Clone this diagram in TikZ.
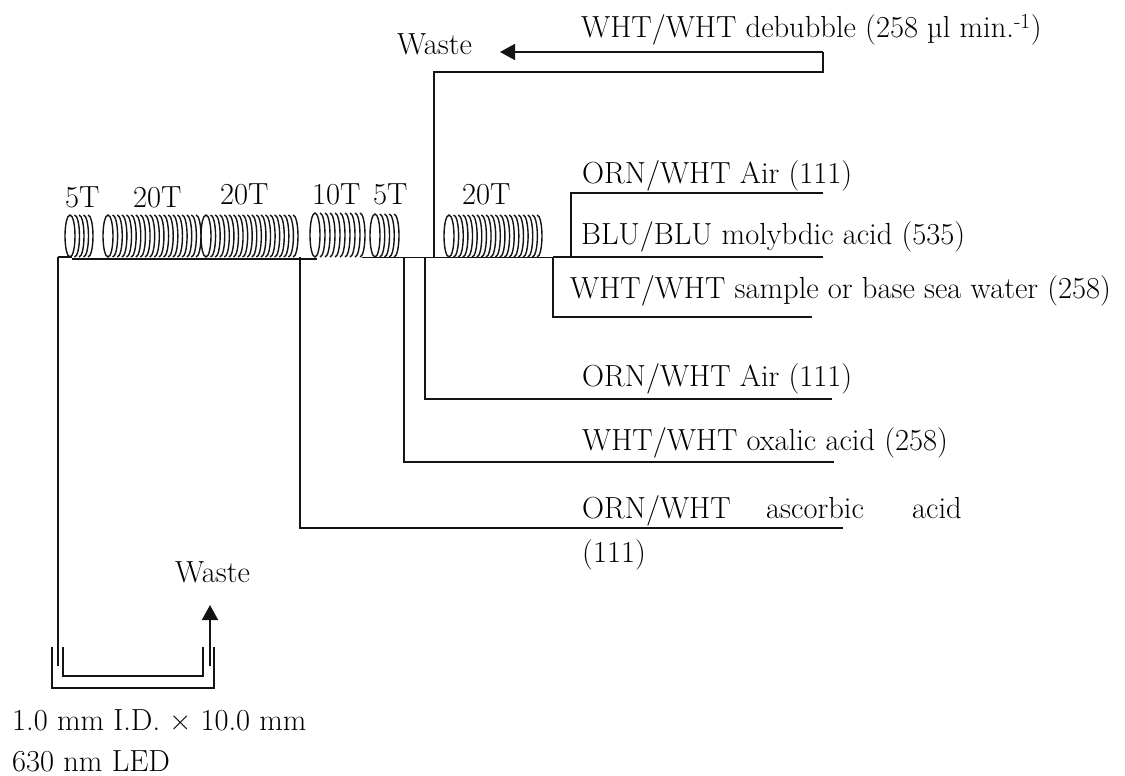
\documentclass[tikz,border=0pt]{standalone}
\usepackage{fontspec}
\usetikzlibrary{arrows.meta}
\definecolor{tube}{RGB}{20,20,20}
\newcommand{\coil}[5]{%
  \pgfmathsetmacro{\coilstep}{(#2-#1-10)/(#3-1)}
  \pgfmathsetmacro{\coilmid}{(#4+#5)/2}
  \pgfmathsetmacro{\coilry}{(#5-#4)/2}
  \draw[coilline] (#1+5,\coilmid) ellipse [x radius=5, y radius=\coilry];
  \foreach \k in {1,...,\numexpr#3-1\relax}
    \draw[coilline] ({#1+5+\k*\coilstep},#5) arc [start angle=90, end angle=-90, x radius=5, y radius=\coilry];
}
\begin{document}
\begin{tikzpicture}[x=1pt, y=-1pt, >={Triangle[length=15pt,width=16pt]},
  coilline/.style={line width=1.4pt, tube},
  pipe/.style={line width=1.6pt, tube},
  mainpipe/.style={line width=2.5pt, tube},
  thinpipe/.style={line width=1pt, tube},
  txt/.style={anchor=base west, inner sep=0pt, font=\fontsize{30.5}{35}\selectfont}]
  \useasboundingbox (0,0) rectangle (1125,776);
  % coils
  \coil{65}{93}{5}{215}{257}
  \coil{103}{201}{20}{215}{257}
  \coil{201}{298}{20}{215}{257}
  \coil{310}{365}{10}{213}{257}
  \coil{370}{399}{5}{214}{257}
  \coil{444}{542}{20}{215}{257}
  % turn counts
  \node[txt] (turnA) at (65,207) {5T};
  \node[txt] (turnB) at (133,207) {20T};
  \node[txt] (turnC) at (220,204) {20T};
  \node[txt] (turnD) at (312,204) {10T};
  \node[txt] (turnE) at (373,204) {5T};
  \node[txt] (turnF) at (462,204) {20T};
  % joints on the manifold line
  \coordinate (leftEnd) at (58,257);
  \coordinate (leftBend) at (72,257);
  \coordinate (mainA) at (72,259);
  \coordinate (mainB) at (317,259);
  \coordinate (mainC) at (362,257);
  \coordinate (jSample) at (553,257);
  \coordinate (jMoly) at (571,257);
  \coordinate (endMoly) at (823,257);
  \coordinate (jAsc) at (300,257);
  \coordinate (jOxa) at (404,257);
  \coordinate (jAir) at (425,257);
  \coordinate (jDeb) at (434,257);
  % free ends
  \coordinate (endAir) at (823,193);
  \coordinate (endSample) at (812,317);
  \coordinate (endAirB) at (832,399);
  \coordinate (endOxa) at (834,462);
  \coordinate (endAsc) at (843,528);
  \coordinate (debA) at (823,72);
  \coordinate (debB) at (823,52);
  \coordinate (tipTop) at (500,52);
  % manifold
  \draw[pipe] (leftEnd) -- (leftBend);
  \draw[mainpipe] (mainA) -- (mainB);
  \draw[thinpipe] (mainC) -- (jSample);
  \draw[mainpipe] (jSample) -- (endMoly);
  % branches
  \draw[pipe] (jMoly) |- (endAir);
  \draw[pipe] (jSample) |- (endSample);
  \draw[pipe] (jAir) |- (endAirB);
  \draw[pipe] (jOxa) |- (endOxa);
  \draw[pipe] (jAsc) |- (endAsc);
  \draw[pipe] (jDeb) |- (debA) -- (debB);
  \draw[pipe, ->] (debB) -- (tipTop);
  % flow cell
  \coordinate (cellIn) at (58,666);
  \coordinate (cellOut) at (210,666);
  \coordinate (tipLow) at (210,605);
  \coordinate (outerL) at (52,647);
  \coordinate (outerR) at (214,647);
  \coordinate (innerL) at (63,647);
  \coordinate (innerR) at (203,647);
  \draw[pipe] (leftEnd) -- (cellIn);
  \draw[pipe, ->] (cellOut) -- (tipLow);
  \draw[pipe] (outerL) -- (52,688) -- (214,688) -- (outerR);
  \draw[pipe] (innerL) -- (63,676) -- (203,676) -- (innerR);
  % labels
  \node[txt] (wasteTop) at (397,55) {Waste};
  \node[txt] (labDeb) at (581,38) {WHT/WHT debubble (258 µl min.\textsuperscript{-1})};
  \node[txt] (labAir) at (582,183) {ORN/WHT Air (111)};
  \node[txt] (labMoly) at (581,244) {BLU/BLU molybdic acid (535)};
  \node[txt] (labSample) at (570,298) {WHT/WHT sample or base sea water (258)};
  \node[txt] (labAirB) at (582,386) {ORN/WHT Air (111)};
  \node[txt] (labOxa) at (582,450) {WHT/WHT oxalic acid (258)};
  \node[txt] (labAsc) at (582,518) {ORN/WHT};
  \node[txt] (labAscB) at (766,518) {ascorbic};
  \node[txt] (labAscC) at (912,518) {acid};
  \node[txt] (labAscD) at (582,562) {(111)};
  \node[txt] (wasteLow) at (175,582) {Waste};
  \node[txt] (labCell) at (12,730) {1.0 mm I.D. × 10.0 mm};
  \node[txt] (labLed) at (12,771) {630 nm LED};
\end{tikzpicture}
\end{document}
